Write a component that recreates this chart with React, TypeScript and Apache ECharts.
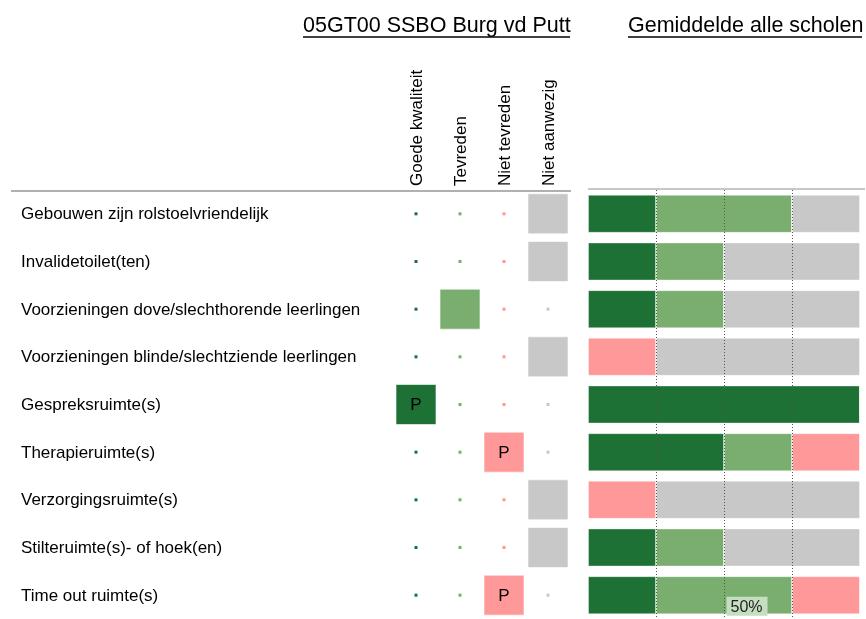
import React, { useEffect, useRef } from 'react';
import * as echarts from 'echarts';

const titleSchool = '05GT00 SSBO Burg vd Putt';
const titleAverage = 'Gemiddelde alle scholen';

const rowLabels = [
  'Gebouwen zijn rolstoelvriendelijk',
  'Invalidetoilet(ten)',
  'Voorzieningen dove/slechthorende leerlingen',
  'Voorzieningen blinde/slechtziende leerlingen',
  'Gespreksruimte(s)',
  'Therapieruimte(s)',
  'Verzorgingsruimte(s)',
  'Stilteruimte(s)- of hoek(en)',
  'Time out ruimte(s)',
];
const answerCategories = ['Goede kwaliteit', 'Tevreden', 'Niet tevreden', 'Niet aanwezig'];

// school answer per row: index into answerCategories
const schoolAnswer = [3, 3, 1, 3, 0, 2, 3, 3, 2];
const schoolMark = ['', '', '', '', 'P', 'P', '', '', 'P'];

// average of all schools (percent)
const avgGoede = [25, 25, 25, 0, 100, 50, 0, 25, 25];
const avgTevreden = [50, 25, 25, 0, 0, 25, 0, 25, 50];
const avgNietTevreden = [0, 0, 0, 25, 0, 25, 25, 0, 25];
const avgNietAanwezig = [25, 50, 50, 75, 0, 0, 75, 50, 0];
const highlightedLabel = { series: 1, row: 8, text: '50%' };

const colors = ['#1e7134', '#7aae6f', '#ff9999', '#c8c8c8'];
const FONT = 'Liberation Sans, Arial, sans-serif';

export default function App() {
  const ref = useRef<HTMLDivElement>(null);
  useEffect(() => {
    document.body.style.margin = '0';
    const chart = echarts.init(ref.current!, null, { renderer: 'svg' });

    const matrixData: any[] = [];
    rowLabels.forEach((_, r) => {
      answerCategories.forEach((__, c) => {
        const sel = schoolAnswer[r] === c;
        matrixData.push({
          value: [c, r],
          symbolSize: sel ? 40 : 3,
          itemStyle: {
            color: colors[c],
            opacity: 1,
            borderColor: sel ? 'rgba(255,255,255,0.6)' : 'transparent',
            borderWidth: sel ? 1 : 0,
          },
          label: {
            show: sel && !!schoolMark[r],
            formatter: schoolMark[r],
          },
        });
      });
    });

    const avgSeries = [avgGoede, avgTevreden, avgNietTevreden, avgNietAanwezig].map((arr, si) => ({
      type: 'bar',
      name: answerCategories[si],
      xAxisIndex: 1,
      yAxisIndex: 1,
      stack: 'avg',
      barWidth: 38,
      itemStyle: { color: colors[si], borderColor: 'rgba(255,255,255,0.35)', borderWidth: 1 },
      data: arr.map((v, r) => {
        if (si === highlightedLabel.series && r === highlightedLabel.row) {
          return {
            value: v,
            label: {
              show: true,
              formatter: highlightedLabel.text,
              position: 'inside',
              offset: [23, 11],
              fontFamily: FONT,
              fontSize: 16,
              color: '#222',
              backgroundColor: '#c6dec0',
              padding: [2, 5, 1, 4],
            },
          };
        }
        return v;
      }),
    }));

    chart.setOption({
      animation: false,
      textStyle: { fontFamily: FONT },
      grid: [
        { left: 394, width: 176, top: 190, height: 434 },
        { left: 588, width: 272, top: 190, height: 434 },
      ],
      xAxis: [
        {
          type: 'category',
          gridIndex: 0,
          data: answerCategories,
          position: 'top',
          axisLine: { show: false },
          axisTick: { show: false },
          axisLabel: { rotate: -90, fontSize: 17, color: '#000', fontFamily: FONT, margin: 4, interval: 0 },
          splitLine: { show: false },
        },
        {
          type: 'value',
          gridIndex: 1,
          min: 0,
          max: 100,
          interval: 25,
          z: 10,
          axisLine: { show: false },
          axisTick: { show: false },
          axisLabel: { show: false },
          splitLine: {
            show: true,
            showMinLine: false,
            showMaxLine: false,
            lineStyle: { color: '#555', type: [1, 2], width: 1 },
          },
        },
      ],
      yAxis: [
        {
          type: 'category',
          gridIndex: 0,
          data: rowLabels,
          inverse: true,
          axisLine: { show: false },
          axisTick: { show: false },
          axisLabel: { align: 'left', margin: 373, fontSize: 17, color: '#000', fontFamily: FONT, interval: 0 },
          splitLine: { show: false },
        },
        {
          type: 'category',
          gridIndex: 1,
          data: rowLabels,
          inverse: true,
          axisLine: { show: false },
          axisTick: { show: false },
          axisLabel: { show: false },
          splitLine: { show: false },
        },
      ],
      series: [
        {
          type: 'scatter',
          xAxisIndex: 0,
          yAxisIndex: 0,
          symbol: 'rect',
          data: matrixData,
          label: { position: 'inside', fontSize: 17, color: '#000', fontFamily: FONT },
        },
        ...avgSeries,
      ],
      graphic: [
        {
          type: 'text',
          left: 303,
          top: 14,
          style: { text: titleSchool, font: `21.5px ${FONT}`, fill: '#000' },
        },
        {
          type: 'line',
          shape: { x1: 303, y1: 37, x2: 570, y2: 37 },
          style: { stroke: '#000', lineWidth: 1.5 },
        },
        {
          type: 'text',
          left: 628,
          top: 14,
          style: { text: titleAverage, font: `21.5px ${FONT}`, fill: '#000' },
        },
        {
          type: 'line',
          shape: { x1: 628, y1: 37, x2: 862, y2: 37 },
          style: { stroke: '#000', lineWidth: 1.5 },
        },
        {
          type: 'line',
          shape: { x1: 11, y1: 191, x2: 571, y2: 191 },
          style: { stroke: '#b0b0b0', lineWidth: 2 },
        },
        {
          type: 'line',
          shape: { x1: 588, y1: 189, x2: 865, y2: 189 },
          style: { stroke: '#c8c8c8', lineWidth: 2 },
        },
      ],
    });
    return () => chart.dispose();
  }, []);
  return <div ref={ref} style={{ position: 'fixed', left: 0, top: 0, width: 866, height: 619 }} />;
}
